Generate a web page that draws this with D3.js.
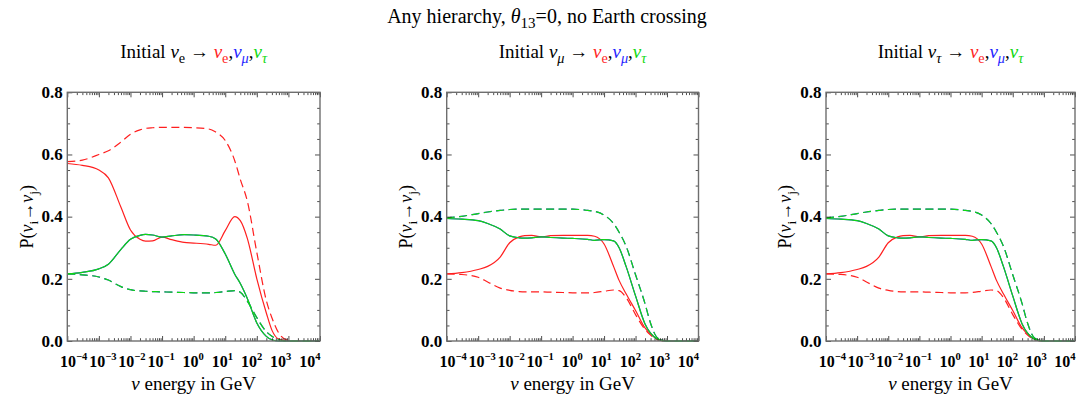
<!DOCTYPE html>
<html>
<head>
<meta charset="utf-8">
<script src="https://cdn.jsdelivr.net/npm/d3@7"></script>
<style>
  body { margin: 0; background: #ffffff; }
  svg text { font-family: "Liberation Serif", "Times New Roman", serif; fill: #000; }
</style>
</head>
<body>
<svg id="chart" width="1085" height="396"></svg>
<script>
// Energy grid (GeV) shared by every curve
const energyGeV = [1e-4, 3e-4, 1e-3, 2e-3, 5e-3, 0.01, 0.02, 0.03, 0.05, 0.1, 0.2, 0.5, 1, 3, 5,
                   10, 20, 30, 50, 100, 200, 300, 500, 1000, 3000, 1e4];

// Initial nu_e: solid = neutrinos, dashed = antineutrinos
const eToE     = [0.571, 0.565, 0.550, 0.525, 0.430, 0.357, 0.327, 0.321, 0.322, 0.334, 0.326, 0.317, 0.315,
                  0.311, 0.308, 0.355, 0.400, 0.387, 0.330, 0.200, 0.090, 0.035, 0.006, 0, 0, 0];
const eToEBar  = [0.577, 0.582, 0.600, 0.612, 0.640, 0.665, 0.679, 0.684, 0.686, 0.687, 0.687, 0.687, 0.686,
                  0.682, 0.672, 0.645, 0.580, 0.520, 0.450, 0.285, 0.130, 0.075, 0.025, 0.002, 0, 0];
const eToMu    = [0.216, 0.221, 0.232, 0.247, 0.295, 0.327, 0.340, 0.343, 0.341, 0.334, 0.338, 0.342, 0.341,
                  0.337, 0.328, 0.280, 0.215, 0.185, 0.137, 0.058, 0.015, 0.004, 0, 0, 0, 0];
const eToMuBar = [0.216, 0.213, 0.206, 0.196, 0.175, 0.165, 0.161, 0.160, 0.159, 0.158, 0.157, 0.156, 0.155,
                  0.155, 0.156, 0.159, 0.162, 0.157, 0.128, 0.075, 0.030, 0.015, 0.004, 0, 0, 0];
const eToTau    = eToMu;
const eToTauBar = eToMuBar;

// Initial nu_mu
const muToE     = [0.216, 0.220, 0.230, 0.240, 0.270, 0.316, 0.335, 0.339, 0.340, 0.335, 0.339, 0.340, 0.340,
                   0.340, 0.337, 0.312, 0.240, 0.195, 0.152, 0.098, 0.042, 0.022, 0.006, 0, 0, 0];
const muToEBar  = [0.216, 0.214, 0.205, 0.190, 0.170, 0.163, 0.159, 0.158, 0.158, 0.158, 0.157, 0.156, 0.155,
                   0.155, 0.156, 0.160, 0.164, 0.162, 0.140, 0.085, 0.037, 0.019, 0.004, 0, 0, 0];
const muToMu    = [0.394, 0.392, 0.387, 0.378, 0.360, 0.338, 0.332, 0.331, 0.332, 0.335, 0.333, 0.331, 0.330,
                   0.327, 0.324, 0.326, 0.322, 0.300, 0.240, 0.145, 0.055, 0.025, 0.006, 0, 0, 0];
const muToMuBar = [0.396, 0.401, 0.410, 0.415, 0.420, 0.423, 0.424, 0.424, 0.424, 0.424, 0.424, 0.424, 0.424,
                   0.420, 0.417, 0.405, 0.378, 0.350, 0.305, 0.213, 0.120, 0.057, 0.010, 0, 0, 0];
const muToTau    = muToMu;
const muToTauBar = muToMuBar;

// Initial nu_tau
const tauToE      = muToE;
const tauToEBar   = muToEBar;
const tauToMu     = muToMu;
const tauToMuBar  = muToMuBar;
const tauToTau    = muToMu;
const tauToTauBar = muToMuBar;

// Axis ticks
const xMajorTicks = [1e-4, 1e-3, 1e-2, 1e-1, 1, 10, 100, 1000, 1e4];
const xTickExponents = ["\u22124", "\u22123", "\u22122", "\u22121", "0", "1", "2", "3", "4"];
const yMajorTicks = [0, 0.2, 0.4, 0.6, 0.8];

const flavourColor = { e: "#ff1f1f", mu: "#1f1fff", tau: "#10d810" };

const panels = [
  { left: 67.3, right: 320, init: "e", initItalic: false, ylab: 33,
    series: [
      { v: eToE, c: "e", dash: false }, { v: eToEBar, c: "e", dash: true },
      { v: eToMu, c: "mu", dash: false }, { v: eToMuBar, c: "mu", dash: true },
      { v: eToTau, c: "tau", dash: false }, { v: eToTauBar, c: "tau", dash: true } ] },
  { left: 446.7, right: 698.5, init: "\u03bc", initItalic: true, ylab: 412,
    series: [
      { v: muToE, c: "e", dash: false }, { v: muToEBar, c: "e", dash: true },
      { v: muToMu, c: "mu", dash: false }, { v: muToMuBar, c: "mu", dash: true },
      { v: muToTau, c: "tau", dash: false }, { v: muToTauBar, c: "tau", dash: true } ] },
  { left: 826, right: 1075, init: "\u03c4", initItalic: true, ylab: 791,
    series: [
      { v: tauToE, c: "e", dash: false }, { v: tauToEBar, c: "e", dash: true },
      { v: tauToMu, c: "mu", dash: false }, { v: tauToMuBar, c: "mu", dash: true },
      { v: tauToTau, c: "tau", dash: false }, { v: tauToTauBar, c: "tau", dash: true } ] }
];

const yTop = 92.3, yBottom = 341;
const svg = d3.select("#chart");
svg.append("rect").attr("width", 1085).attr("height", 396).attr("fill", "#fff");

// Writes a run of styled pieces (italic, colour, sub/superscript) into a text element
function rich(textSel, parts, baseSize, supScale = 0.7) {
  let shift = 0;
  parts.forEach(p => {
    const ts = textSel.append("tspan").text(p.t);
    let target = 0, size = baseSize;
    if (p.sub) { target = baseSize * 0.25; size = baseSize * 0.75; }
    if (p.sup) { target = -baseSize * 0.42; size = baseSize * supScale; }
    ts.attr("dy", target - shift).attr("font-size", size);
    shift = target;
    if (p.it) ts.attr("font-style", "italic");
    if (p.color) ts.style("fill", p.color);
  });
}

// Overall title
rich(svg.append("text").attr("x", 547).attr("y", 23).attr("text-anchor", "middle").attr("font-size", 20),
  [{ t: "Any hierarchy, " }, { t: "\u03b8", it: true }, { t: "13", sub: true }, { t: "=0, no Earth crossing" }], 20);

panels.forEach(p => {
  const g = svg.append("g");
  const x = d3.scaleLog().domain([1e-4, 1e4]).range([p.left, p.right]);
  const y = d3.scaleLinear().domain([0, 0.8]).range([yBottom, yTop]);
  // tick labels sit with their right edge on this companion scale
  const xLabel = d3.scaleLog().domain([1e-4, 1e4]).range([p.left + 20, p.right + 0.5]);
  const cx = (p.left + p.right) / 2;

  // panel title
  rich(g.append("text").attr("x", cx).attr("y", 58).attr("text-anchor", "middle").attr("font-size", 19),
    [{ t: "Initial " }, { t: "\u03bd", it: true }, { t: p.init, sub: true, it: p.initItalic }, { t: " \u2192 " },
     { t: "\u03bd", it: true, color: flavourColor.e }, { t: "e", sub: true, color: flavourColor.e }, { t: "," },
     { t: "\u03bd", it: true, color: flavourColor.mu }, { t: "\u03bc", sub: true, it: true, color: flavourColor.mu }, { t: "," },
     { t: "\u03bd", it: true, color: flavourColor.tau }, { t: "\u03c4", sub: true, it: true, color: flavourColor.tau }], 19);

  // curves (blue drawn under green, they coincide here)
  const line = d3.line()
    .x((d, i) => x(energyGeV[i]))
    .y(d => y(d))
    .curve(d3.curveMonotoneX);
  const order = ["e", "mu", "tau"];
  order.forEach(fl => {
    p.series.filter(s => s.c === fl).forEach(s => {
      g.append("path").attr("d", line(s.v)).attr("fill", "none")
        .attr("stroke", flavourColor[s.c]).attr("stroke-width", 1.2)
        .attr("stroke-dasharray", s.dash ? "8,4.5" : null);
    });
  });

  // frame ticks
  const xMinor = [];
  for (let k = -4; k < 4; k++) for (let m = 2; m <= 9; m++) xMinor.push(m * Math.pow(10, k));
  const yMinor = d3.range(0, 17).map(i => i * 0.05).filter(v => yMajorTicks.every(t => Math.abs(t - v) > 1e-6));

  const tickStyle = sel => { sel.select(".domain").remove(); sel.selectAll("line").attr("stroke", "#222").attr("stroke-width", 0.8); sel.selectAll("text").remove(); };
  g.append("g").attr("transform", `translate(0,${yBottom})`).call(d3.axisBottom(x).tickValues(xMajorTicks).tickSizeInner(-5).tickSizeOuter(0)).call(tickStyle);
  g.append("g").attr("transform", `translate(0,${yBottom})`).call(d3.axisBottom(x).tickValues(xMinor).tickSizeInner(-2.8).tickSizeOuter(0)).call(tickStyle);
  g.append("g").attr("transform", `translate(0,${yTop})`).call(d3.axisTop(x).tickValues(xMajorTicks).tickSizeInner(-5).tickSizeOuter(0)).call(tickStyle);
  g.append("g").attr("transform", `translate(0,${yTop})`).call(d3.axisTop(x).tickValues(xMinor).tickSizeInner(-2.8).tickSizeOuter(0)).call(tickStyle);
  g.append("g").attr("transform", `translate(${p.left},0)`).call(d3.axisLeft(y).tickValues(yMajorTicks).tickSizeInner(-5).tickSizeOuter(0)).call(tickStyle);
  g.append("g").attr("transform", `translate(${p.left},0)`).call(d3.axisLeft(y).tickValues(yMinor).tickSizeInner(-2.8).tickSizeOuter(0)).call(tickStyle);
  g.append("g").attr("transform", `translate(${p.right},0)`).call(d3.axisRight(y).tickValues(yMajorTicks).tickSizeInner(-5).tickSizeOuter(0)).call(tickStyle);
  g.append("g").attr("transform", `translate(${p.right},0)`).call(d3.axisRight(y).tickValues(yMinor).tickSizeInner(-2.8).tickSizeOuter(0)).call(tickStyle);

  // frame
  g.append("rect").attr("x", p.left).attr("y", yTop).attr("width", p.right - p.left).attr("height", yBottom - yTop)
    .attr("fill", "none").attr("stroke", "#6e6e6e").attr("stroke-width", 1.4);

  // y tick labels
  g.selectAll(".ylab").data(yMajorTicks).join("text")
    .attr("x", p.left - 4.5).attr("y", d => y(d)).attr("dy", "0.34em")
    .attr("text-anchor", "end").attr("font-size", 17).attr("font-weight", "bold")
    .text(d3.format(".1f"));

  // x tick labels: 10^k
  xMajorTicks.forEach((v, i) => {
    const t = g.append("text").attr("x", xLabel(v)).attr("y", 367).attr("text-anchor", "end")
      .attr("font-size", 16).attr("font-weight", "bold");
    rich(t, [{ t: "10" }, { t: xTickExponents[i], sup: true }], 16, 0.66);
  });

  // axis titles
  rich(g.append("text").attr("transform", `translate(${p.ylab},${(yTop + yBottom) / 2}) rotate(-90)`)
    .attr("text-anchor", "middle").attr("font-size", 18),
    [{ t: "P(" }, { t: "\u03bd", it: true }, { t: "i", sub: true }, { t: "\u2192" }, { t: "\u03bd", it: true }, { t: "j", sub: true }, { t: ")" }], 18);
  rich(g.append("text").attr("x", cx).attr("y", 390).attr("text-anchor", "middle").attr("font-size", 19),
    [{ t: "\u03bd", it: true }, { t: " energy in GeV" }], 19);
});
</script>
</body>
</html>
